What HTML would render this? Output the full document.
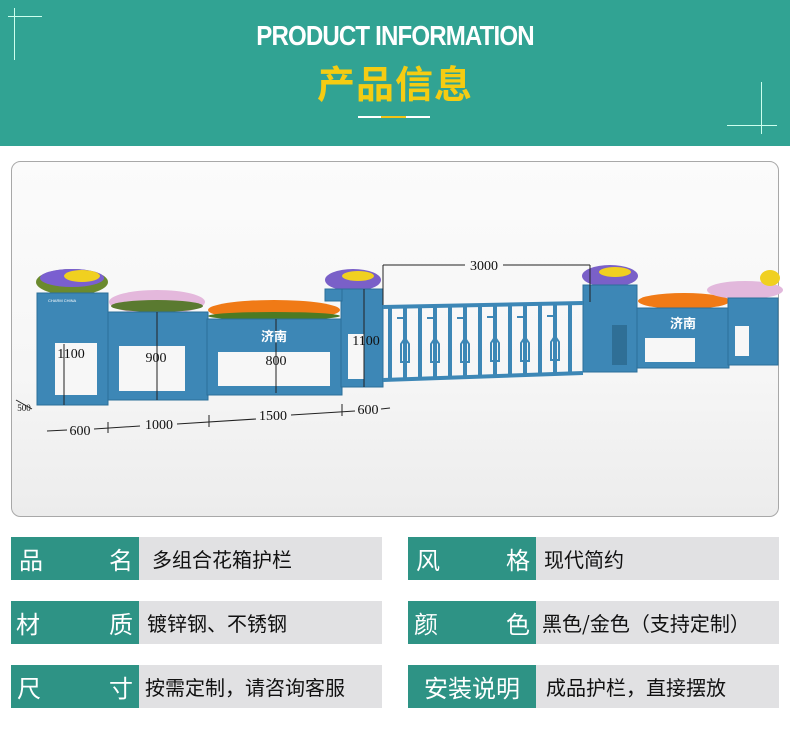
<!DOCTYPE html>
<html><head><meta charset="utf-8"><style>
body{margin:0;width:790px;height:733px;background:#fff;position:relative;overflow:hidden;font-family:"Liberation Sans","Noto Sans CJK SC",sans-serif}
.hdr{position:absolute;left:0;top:0;width:790px;height:146px;background:#31a393}
.en{position:absolute;left:0;width:790px;top:20px;text-align:center;color:#fff;font-weight:bold;font-size:28px;letter-spacing:-1px;transform:scaleX(0.86);font-family:"Liberation Sans Narrow","Liberation Sans",sans-serif}
.cn{position:absolute;left:0;width:790px;top:54px;text-align:center;color:#f5cc12;font-weight:bold;font-size:38px;letter-spacing:1px;font-family:"Noto Sans CJK SC",sans-serif}
.ln{position:absolute;height:2px;top:116px}
.row{position:absolute;height:43px}
.g{position:absolute;top:0;height:43px;background:#2e9385;color:#fff;font-size:24px;line-height:43px;font-family:"Noto Sans CJK SC",sans-serif}
.v{position:absolute;top:0;height:43px;background:#e1e1e3;color:#111;font-size:20px;line-height:43px;font-family:"Noto Sans CJK SC",sans-serif}
</style></head><body>
<div class="hdr">
<div style="position:absolute;left:8px;top:16px;width:34px;height:1px;background:#cfe"></div>
<div style="position:absolute;left:14px;top:8px;width:1px;height:52px;background:#cfe"></div>
<div style="position:absolute;left:727px;top:125px;width:50px;height:1px;background:#cfe"></div>
<div style="position:absolute;left:761px;top:82px;width:1px;height:52px;background:#cfe"></div>
<div class="en">PRODUCT INFORMATION</div>
<div class="cn">产品信息</div>
<div class="ln" style="left:358px;width:23px;background:#fff"></div>
<div class="ln" style="left:381px;width:25px;background:#f3c316"></div>
<div class="ln" style="left:406px;width:24px;background:#fff"></div>
</div>
<svg style="position:absolute;left:0;top:0" width="790" height="733">
<defs><linearGradient id="bg" x1="0" y1="0" x2="0" y2="1"><stop offset="0" stop-color="#fbfbfb"/><stop offset="0.6" stop-color="#f6f6f6"/><stop offset="1" stop-color="#ececec"/></linearGradient></defs>
<rect x="11.5" y="161.5" width="767" height="355" rx="9" fill="url(#bg)" stroke="#a8a8a8"/>
<!-- flowers -->
<ellipse cx="72" cy="282" rx="36" ry="13" fill="#6b8a2e"/><ellipse cx="72" cy="278" rx="32" ry="9" fill="#7a5fd0"/><ellipse cx="82" cy="276" rx="18" ry="6" fill="#f0d020"/>
<ellipse cx="157" cy="302" rx="48" ry="12" fill="#e4b8dc"/><ellipse cx="157" cy="306" rx="46" ry="6" fill="#5a7a30"/>
<ellipse cx="274" cy="310" rx="66" ry="10" fill="#f07a16"/><ellipse cx="274" cy="316" rx="66" ry="4" fill="#4d7a22"/>
<ellipse cx="353" cy="280" rx="28" ry="11" fill="#7a60c8"/><ellipse cx="358" cy="276" rx="16" ry="5" fill="#f0d020"/>
<ellipse cx="610" cy="276" rx="28" ry="11" fill="#7a60c8"/><ellipse cx="615" cy="272" rx="16" ry="5" fill="#f0d020"/>
<ellipse cx="684" cy="301" rx="46" ry="8" fill="#f07a16"/>
<ellipse cx="745" cy="290" rx="38" ry="9" fill="#e2b8dc"/><ellipse cx="770" cy="278" rx="10" ry="8" fill="#f0d020"/>
<!-- planters -->
<g fill="#3d87b6" stroke="#2c6f99" stroke-width="1">
<rect x="37" y="293" width="71" height="112"/>
<rect x="108" y="312" width="100" height="88"/>
<rect x="207" y="319" width="135" height="76"/>
<rect x="341" y="289" width="42" height="98"/>
<rect x="325" y="289" width="17" height="12"/>
<rect x="583" y="285" width="54" height="87"/>
<rect x="637" y="308" width="92" height="60"/>
<rect x="728" y="298" width="50" height="67"/>
</g>
<g fill="#f7f7f7">
<rect x="55" y="343" width="42" height="52"/><rect x="119" y="346" width="66" height="45"/>
<rect x="218" y="352" width="112" height="34"/><rect x="348" y="334" width="16" height="45"/>
<rect x="645" y="338" width="50" height="24"/><rect x="735" y="326" width="14" height="30"/>
</g>
<rect x="612" y="325" width="15" height="40" fill="#2f6f96"/>
<!-- fence -->
<g fill="none" stroke="#3d87b6" stroke-width="4">
<line x1="383" y1="307" x2="583" y2="303"/><line x1="383" y1="380" x2="583" y2="373"/>
</g>
<g stroke="#3d87b6" stroke-width="4">
<line x1="390" y1="307" x2="390" y2="380"/><line x1="405" y1="307" x2="405" y2="380"/><line x1="420" y1="307" x2="420" y2="380"/><line x1="435" y1="307" x2="435" y2="379"/><line x1="450" y1="306" x2="450" y2="379"/><line x1="465" y1="306" x2="465" y2="378"/><line x1="480" y1="306" x2="480" y2="378"/><line x1="495" y1="305" x2="495" y2="377"/><line x1="510" y1="305" x2="510" y2="377"/><line x1="525" y1="305" x2="525" y2="376"/><line x1="540" y1="304" x2="540" y2="376"/><line x1="555" y1="304" x2="555" y2="375"/><line x1="570" y1="304" x2="570" y2="374"/>
</g>
<g fill="none" stroke="#3d87b6" stroke-width="2">
<path d="M397 318h8v20l-4 6v18h8v-18l-4-6"/><path d="M427 318h8v20l-4 6v18h8v-18l-4-6"/><path d="M457 318h8v20l-4 6v18h8v-18l-4-6"/><path d="M487 317h8v20l-4 6v18h8v-18l-4-6"/><path d="M517 317h8v20l-4 6v18h8v-18l-4-6"/><path d="M547 316h8v20l-4 6v18h8v-18l-4-6"/>
</g>
<!-- dims -->
<g stroke="#222" stroke-width="1" fill="none">
<line x1="383" y1="265" x2="383" y2="305"/><line x1="590" y1="265" x2="590" y2="302"/>
<line x1="383" y1="265" x2="465" y2="265"/><line x1="503" y1="265" x2="590" y2="265"/>
<line x1="64" y1="344" x2="64" y2="405"/><line x1="157" y1="312" x2="157" y2="400"/><line x1="276" y1="319" x2="276" y2="393"/><line x1="364" y1="289" x2="364" y2="387"/>
<line x1="47" y1="431" x2="67" y2="430"/><line x1="94" y1="429" x2="140" y2="426"/><line x1="177" y1="424" x2="256" y2="419"/><line x1="291" y1="415" x2="355" y2="411"/><line x1="381" y1="409" x2="390" y2="408"/>
<line x1="108" y1="422" x2="108" y2="433"/><line x1="209" y1="415" x2="209" y2="427"/><line x1="342" y1="404" x2="342" y2="416"/>
<line x1="16" y1="400" x2="32" y2="409"/>
</g>
<g font-family="Liberation Serif,serif" font-size="14" fill="#111" text-anchor="middle">
<text x="484" y="270">3000</text><text x="71" y="358">1100</text><text x="156" y="362">900</text><text x="276" y="365">800</text><text x="366" y="345">1100</text>
<text x="80" y="435">600</text><text x="159" y="429">1000</text><text x="273" y="420">1500</text><text x="368" y="414">600</text>
<text x="24" y="411" font-size="9">500</text>
</g>
<g font-family="Noto Sans CJK SC,sans-serif" font-weight="bold" fill="#fff" font-size="13"><text x="261" y="341">济南</text><text x="670" y="328">济南</text></g>
<text x="48" y="302" font-size="4" fill="#fff">CHARM CHINA</text>
</svg>
<div class="row" style="left:11px;top:537px;width:371px"><div class="g" style="left:0;width:128px"><span style="position:absolute;left:8px">品</span><span style="position:absolute;right:6px">名</span></div><div class="v" style="left:128px;width:243px;padding-left:13px;box-sizing:border-box">多组合花箱护栏</div></div>
<div class="row" style="left:11px;top:601px;width:371px"><div class="g" style="left:0;width:128px"><span style="position:absolute;left:5px">材</span><span style="position:absolute;right:6px">质</span></div><div class="v" style="left:128px;width:243px;padding-left:8px;box-sizing:border-box">镀锌钢、不锈钢</div></div>
<div class="row" style="left:11px;top:665px;width:371px"><div class="g" style="left:0;width:128px"><span style="position:absolute;left:6px">尺</span><span style="position:absolute;right:6px">寸</span></div><div class="v" style="left:128px;width:243px;padding-left:6px;box-sizing:border-box">按需定制，请咨询客服</div></div>
<div class="row" style="left:408px;top:537px;width:371px"><div class="g" style="left:0;width:128px"><span style="position:absolute;left:8px">风</span><span style="position:absolute;right:6px">格</span></div><div class="v" style="left:128px;width:243px;padding-left:8px;box-sizing:border-box">现代简约</div></div>
<div class="row" style="left:408px;top:601px;width:371px"><div class="g" style="left:0;width:128px"><span style="position:absolute;left:6px">颜</span><span style="position:absolute;right:6px">色</span></div><div class="v" style="left:128px;width:243px;padding-left:6px;box-sizing:border-box">黑色/金色（支持定制）</div></div>
<div class="row" style="left:408px;top:665px;width:371px"><div class="g" style="left:0;width:128px;text-align:center">安装说明</div><div class="v" style="left:128px;width:243px;padding-left:10px;box-sizing:border-box">成品护栏，直接摆放</div></div>
</body></html>
